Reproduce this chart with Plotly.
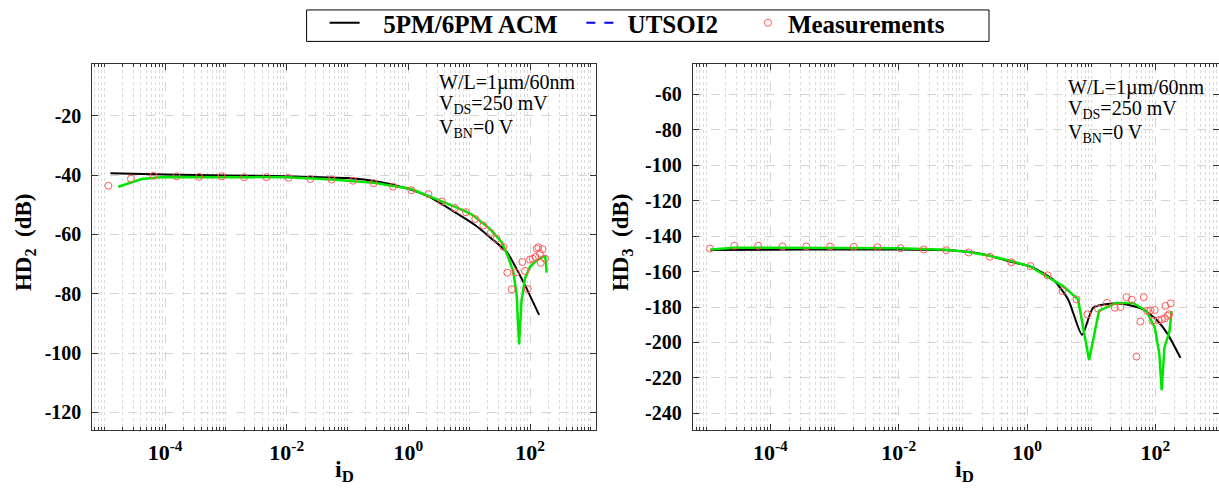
import plotly.graph_objects as go

W, H = 1219, 488
FONT = "Liberation Serif"

# ---------------- data ----------------
# Left panel: HD2
hd2_acm_id = [1.26e-5, 1e-4, 1e-3, 1e-2, 0.1, 0.316, 1.0, 2.14, 5.13, 12.6, 22.4, 41.7, 77.6, 141]
hd2_acm_db = [-39.4, -39.8, -40.1, -40.4, -41.0, -42.2, -44.6, -47.2, -51.8, -56.9, -61.1, -66.0, -76.0, -87.1]

hd2_uts_id = [1.70e-5, 4.17e-5, 9.33e-5, 1e-3, 1e-2, 0.055, 0.269, 1.12, 3.55, 5.75, 8.91, 11.7, 21.9, 34.3,
              43.7, 53.2, 60.3, 66.1, 72.4, 82.8, 100, 129, 166, 178, 188]
hd2_uts_db = [-43.9, -41.3, -40.6, -40.6, -40.7, -41.5, -42.6, -44.7, -48.7, -50.6, -52.3, -53.6, -58.1, -62.6,
              -67.6, -72.6, -80.4, -97.1, -82.6, -74.8, -70.9, -68.7, -67.4, -67.4, -72.9]

hd2_meas_id = [1.17e-5, 2.75e-5, 6.46e-5, 1.55e-4, 3.63e-4, 8.51e-4, 2.0e-3, 4.68e-3, 1.07e-2,
               2.45e-2, 5.5e-2, 0.123, 0.269, 0.562, 1.12, 2.14, 3.55, 5.83, 8.85, 12.6, 17.1,
               22.6, 28.3, 36.4, 42.4, 50.0, 58.2, 74.8, 82.8, 91.6, 100, 111, 123, 129, 137,
               146, 150, 161, 177]
hd2_meas_db = [-43.6, -41.2, -40.2, -40.4, -40.6, -40.4, -40.7, -40.7, -40.9,
               -41.3, -41.5, -41.9, -42.7, -43.9, -45.1, -46.4, -48.9, -51.1, -52.5, -54.8, -57.0,
               -59.5, -61.5, -64.2, -72.9, -78.5, -72.8, -69.3, -72.3, -78.4, -68.5, -68.2, -67.6,
               -64.8, -64.3, -66.5, -69.6, -65.0, -68.2]

# Right panel: HD3
hd3_acm_id = [1.17e-5, 1e-4, 1e-3, 1e-2, 5.62e-2, 0.123, 0.263, 0.562, 1.10, 2.54, 4.36, 7.19,
              10.7, 19.4, 35.2, 64.1, 102, 155, 245]
hd3_acm_db = [-147.8, -147.6, -147.5, -147.5, -147.9, -148.8, -151.0, -154.5, -157.0, -164.5,
              -175.7, -195.7, -180.4, -178.2, -178.6, -181.3, -186.9, -195.3, -208.7]

hd3_uts_id = [1.17e-5, 2.75e-5, 1e-4, 1e-3, 1e-2, 5.62e-2, 0.123, 0.263, 0.562, 1.10, 3.64, 6.22,
              9.25, 13.2, 24.5, 44.7, 72.4, 97.7, 115, 125, 138, 155, 166, 178]
hd3_uts_db = [-147.5, -146.6, -146.5, -146.6, -146.8, -147.7, -149.0, -151.1, -154.0, -157.0,
              -168.2, -175.7, -209.9, -182.2, -177.7, -177.7, -182.2, -191.6, -206.5, -227.0,
              -202.8, -197.2, -193.5, -182.2]

hd3_meas_id = [1.15e-5, 2.75e-5, 6.46e-5, 1.55e-4, 3.63e-4, 8.51e-4, 2.0e-3, 4.68e-3, 1.07e-2,
               2.45e-2, 5.5e-2, 0.123, 0.263, 0.571, 1.13, 2.08, 3.56, 5.87, 8.71, 12.8, 17.6,
               23.2, 28.5, 35.3, 42.8, 50.6, 58.3, 65.8, 74.1, 83.6, 89.7, 97.5, 112, 126, 140,
               143, 154, 163, 173]
hd3_meas_db = [-147.0, -145.4, -145.4, -145.8, -145.8, -145.8, -146.0, -146.2, -146.8,
               -147.5, -147.9, -149.2, -151.6, -154.8, -156.9, -162.1, -171.0, -175.7, -184.1,
               -180.9, -177.6, -180.4, -180.0, -174.4, -175.9, -208.0, -188.2, -174.4, -182.2,
               -181.9, -187.8, -181.7, -187.5, -186.9, -186.3, -179.4, -185.0, -184.1, -177.9]

x_tick_vals = [1e-4, 1e-2, 1, 1e2]
x_tick_text = ["10<sup>-4</sup>", "10<sup>-2</sup>", "10<sup>0</sup>", "10<sup>2</sup>"]
hd2_ticks = [-120, -100, -80, -60, -40, -20]
hd3_ticks = [-240, -220, -200, -180, -160, -140, -120, -100, -80, -60]

legend_names = ["5PM/6PM ACM", "UTSOI2", "Measurements"]

# ---------------- figure ----------------
ACM_COLOR = "black"
UTS_COLOR = "#00e600"
MEAS_COLOR = "#ff5a5a"
NB = "\u00a0"

fig = go.Figure()

def add_panel(xa, ya, acm_x, acm_y, uts_x, uts_y, m_x, m_y, legend):
    fig.add_trace(go.Scatter(x=acm_x, y=acm_y, mode="lines", xaxis=xa, yaxis=ya,
                             line=dict(color=ACM_COLOR, width=2, shape="spline", smoothing=0.6),
                             name=NB * 3 + legend_names[0] + NB * 3, showlegend=legend))
    fig.add_trace(go.Scatter(x=uts_x, y=uts_y, mode="lines", xaxis=xa, yaxis=ya,
                             line=dict(color=UTS_COLOR, width=2.5),
                             name="UTSOI2 (plotted)", showlegend=False))
    if legend:
        fig.add_trace(go.Scatter(x=[None], y=[None], mode="lines", xaxis=xa, yaxis=ya,
                                 line=dict(color="blue", width=2, dash="dash"),
                                 name=NB + legend_names[1] + NB * 4, showlegend=True))
    fig.add_trace(go.Scatter(x=m_x, y=m_y, mode="markers", xaxis=xa, yaxis=ya,
                             marker=dict(symbol="circle-open", size=7, color=MEAS_COLOR,
                                         line=dict(width=1, color=MEAS_COLOR)),
                             name=legend_names[2] + NB * 6, showlegend=legend))

add_panel("x", "y", hd2_acm_id, hd2_acm_db, hd2_uts_id, hd2_uts_db, hd2_meas_id, hd2_meas_db, True)
add_panel("x2", "y2", hd3_acm_id, hd3_acm_db, hd3_uts_id, hd3_uts_db, hd3_meas_id, hd3_meas_db, False)

minor_vals = []
for k in range(-6, 4):
    for m in range(1, 10):
        v = m * 10.0 ** k
        if m == 1 and k % 2 == 0:
            continue
        minor_vals.append(v)

def xaxis_style(domain, rng, anchor):
    return dict(
        type="log", domain=domain, range=rng, anchor=anchor,
        tickmode="array", tickvals=x_tick_vals, ticktext=x_tick_text,
        ticks="inside", ticklen=6, tickcolor="#333", tickwidth=1,
        showline=True, linecolor="#333", linewidth=1, mirror="allticks",
        showgrid=True, gridcolor="#d4d4d4", griddash="dash", gridwidth=1,
        minor=dict(tickmode="array", tickvals=minor_vals, ticks="inside", ticklen=3,
                   tickcolor="#333", showgrid=True, gridcolor="#dadada",
                   griddash="dot", gridwidth=1),
        tickfont=dict(family=FONT, size=22, color="black", weight="bold"),
        ticklabelstandoff=2, zeroline=False,
    )

def yaxis_style(domain, rng, anchor, ticks):
    return dict(
        domain=domain, range=rng, anchor=anchor,
        tickmode="array", tickvals=ticks, ticktext=[str(t) for t in ticks],
        ticks="inside", ticklen=6, tickcolor="#333", tickwidth=1,
        showline=True, linecolor="#333", linewidth=1, mirror="ticks",
        showgrid=True, gridcolor="#d4d4d4", griddash="dash", gridwidth=1,
        tickfont=dict(family=FONT, size=20, color="black", weight="bold"),
        ticklabelstandoff=6, zeroline=False,
    )

ydom = [(H - 430) / H, (H - 60.7) / H]
fig.update_layout(
    width=W, height=H,
    margin=dict(l=0, r=0, t=0, b=0),
    paper_bgcolor="white", plot_bgcolor="white",
    font=dict(family=FONT, color="black"),
    xaxis=xaxis_style([92.3 / W, 596 / W], [-5.196, 3.085], "y"),
    yaxis=yaxis_style(ydom, [-126.1, -2.6], "x", hd2_ticks),
    xaxis2=xaxis_style([692.7 / W, 1.0], [-5.21, 2.99], "y2"),
    yaxis2=yaxis_style(ydom, [-249.7, -42.9], "x2", hd3_ticks),
    legend=dict(orientation="h", x=324.6 / W, xanchor="left", y=1 + 4 / H, yanchor="top",
                borderwidth=0, bgcolor="rgba(0,0,0,0)",
                font=dict(family=FONT, size=25, color="black", weight="bold"),
                itemwidth=30, tracegroupgap=0),
    showlegend=True,
)

# legend frame
fig.add_shape(type="rect", xref="paper", yref="paper",
              x0=306.6 / W, x1=989 / W, y0=1 - 37.7 / H, y1=1 - 6 / H,
              line=dict(color="black", width=1), fillcolor="white", layer="below")

def ann(x, y, text, size, bold=False, angle=0, xanchor="left"):
    fig.add_annotation(x=x / W, y=1 - y / H, xref="paper", yref="paper", text=text,
                       showarrow=False, xanchor=xanchor, yanchor="middle", textangle=angle,
                       font=dict(family=FONT, size=size, color="black",
                                 weight="bold" if bold else "normal"))

# inset parameter texts
for x0, ys in [(436.7, (79, 101, 126)), (1066, (84, 106, 131))]:
    ann(x0, ys[0], "W/L=1µm/60nm", 20)
    ann(x0, ys[1], "V<sub>DS</sub>=250 mV", 20)
    ann(x0, ys[2], "V<sub>BN</sub>=0 V", 20)

# axis titles
ann(344, 471, "i<sub>D</sub>", 24, bold=True, xanchor="center")
ann(964, 471, "i<sub>D</sub>", 24, bold=True, xanchor="center")
ann(25, 240, "HD<sub>2</sub>  (dB)", 23, bold=True, angle=-90, xanchor="center")
ann(622, 240, "HD<sub>3</sub>  (dB)", 23, bold=True, angle=-90, xanchor="center")

fig.write_html("out.html", config={"displayModeBar": False},
               post_script="document.body.style.margin='0';document.body.style.overflow='hidden';")
